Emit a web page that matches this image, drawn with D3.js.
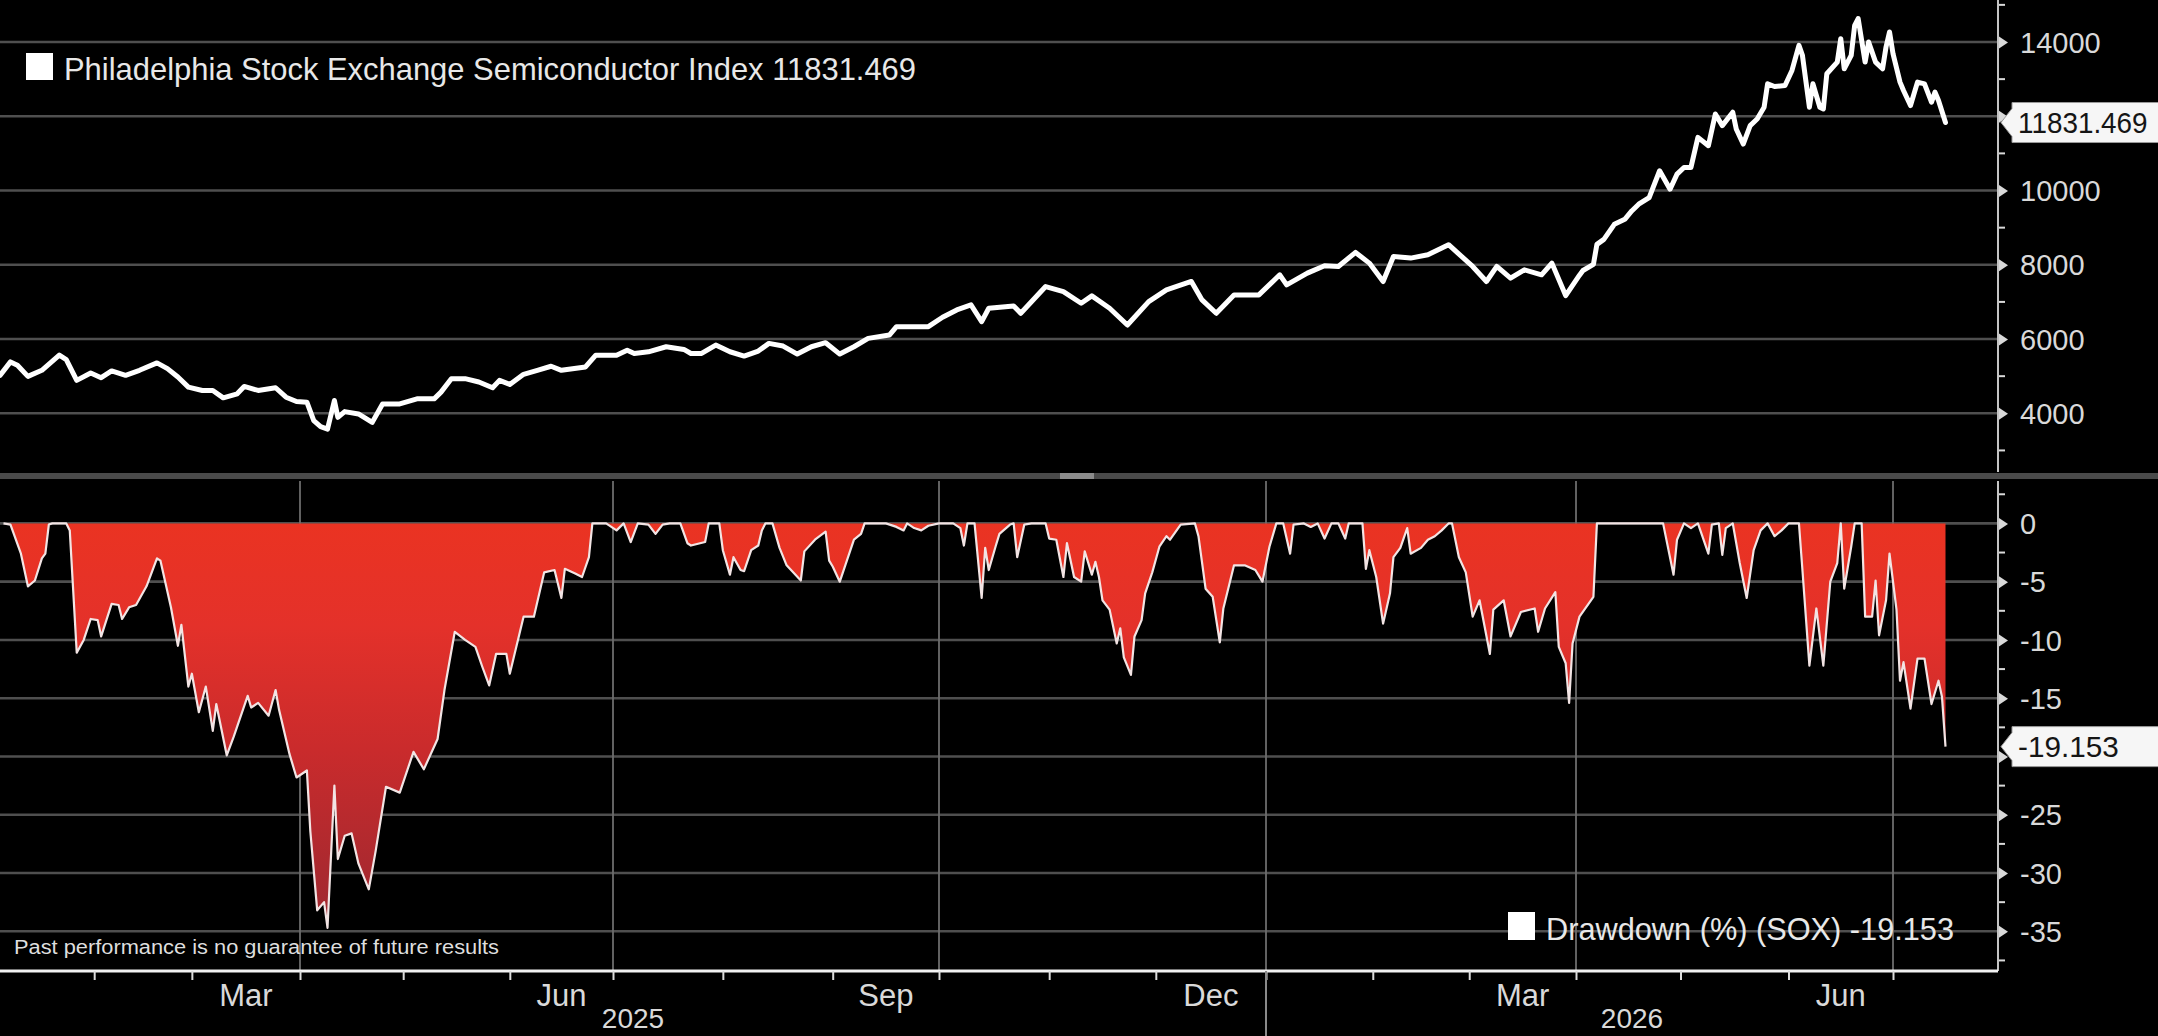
<!DOCTYPE html>
<html><head><meta charset="utf-8">
<script src="https://cdn.jsdelivr.net/npm/d3@7"></script>
<style>
html,body{margin:0;padding:0;background:#000;overflow:hidden}
svg{display:block}
text{font-family:"Liberation Sans",Arial,Helvetica,sans-serif}
</style></head><body>
<svg id="chart" width="2158" height="1036"></svg>
<script>
// ---------------- DATA ----------------
const indexDates = [
"2025-01-05","2025-01-08","2025-01-10","2025-01-13","2025-01-17","2025-01-22","2025-01-24","2025-01-27","2025-01-31",
"2025-02-03","2025-02-06","2025-02-10","2025-02-14","2025-02-19","2025-02-22","2025-02-25","2025-02-28",
"2025-03-04","2025-03-07","2025-03-10","2025-03-14","2025-03-16","2025-03-20","2025-03-25","2025-03-28","2025-03-31",
"2025-04-03","2025-04-05","2025-04-07","2025-04-09","2025-04-11","2025-04-12","2025-04-14","2025-04-18","2025-04-22","2025-04-25","2025-04-30",
"2025-05-05","2025-05-10","2025-05-12","2025-05-15","2025-05-19","2025-05-23","2025-05-27","2025-05-29",
"2025-06-01","2025-06-05","2025-06-09","2025-06-13","2025-06-16","2025-06-23","2025-06-26",
"2025-07-02","2025-07-05","2025-07-07","2025-07-11","2025-07-16","2025-07-21","2025-07-23","2025-07-26","2025-07-30",
"2025-08-03","2025-08-07","2025-08-11","2025-08-14","2025-08-18","2025-08-22","2025-08-26","2025-08-30",
"2025-09-03","2025-09-07","2025-09-11","2025-09-17","2025-09-19","2025-09-28",
"2025-10-02","2025-10-06","2025-10-10","2025-10-13","2025-10-15","2025-10-22","2025-10-24","2025-10-31",
"2025-11-05","2025-11-10","2025-11-13","2025-11-18","2025-11-23","2025-11-29",
"2025-12-04","2025-12-11","2025-12-14","2025-12-18","2025-12-23","2025-12-30",
"2026-01-05","2026-01-07","2026-01-13","2026-01-18","2026-01-22","2026-01-27","2026-01-31",
"2026-02-04","2026-02-07","2026-02-12","2026-02-17","2026-02-23",
"2026-03-02","2026-03-06","2026-03-09","2026-03-13","2026-03-17","2026-03-22","2026-03-25","2026-03-29",
"2026-04-02","2026-04-03","2026-04-06","2026-04-07","2026-04-09","2026-04-12","2026-04-15","2026-04-17","2026-04-19","2026-04-22","2026-04-25","2026-04-28","2026-04-30",
"2026-05-02","2026-05-04","2026-05-06","2026-05-09","2026-05-11","2026-05-13","2026-05-16","2026-05-17","2026-05-19","2026-05-21","2026-05-23","2026-05-25","2026-05-26","2026-05-28","2026-05-31",
"2026-06-02","2026-06-04","2026-06-05","2026-06-07","2026-06-08","2026-06-10","2026-06-11","2026-06-12","2026-06-15","2026-06-16","2026-06-17","2026-06-19","2026-06-20","2026-06-21","2026-06-23","2026-06-24","2026-06-26","2026-06-28","2026-06-29","2026-06-30",
"2026-07-01","2026-07-03","2026-07-04","2026-07-06","2026-07-08","2026-07-10","2026-07-12","2026-07-13","2026-07-14","2026-07-16"
];
const indexValues = [
5020,5385,5294,4995,5158,5566,5448,4887,5086,
4959,5140,5023,5158,5357,5204,4977,4706,
4615,4615,4416,4525,4724,4615,4688,4434,4317,
4299,3801,3638,3575,4344,3891,4045,3982,3756,4253,4253,
4389,4389,4570,4932,4932,4842,4688,4887,
4778,5050,5158,5267,5158,5249,5566,
5566,5701,5611,5656,5792,5720,5611,5613,5838,
5658,5541,5676,5883,5811,5595,5793,5901,
5595,5793,6018,6108,6333,6333,
6586,6784,6919,6468,6829,6892,6694,7414,
7279,6964,7162,6829,6378,7009,
7324,7550,7054,6694,7189,7189,
7730,7459,7775,7973,7955,8333,8045,
7550,8225,8180,8270,8541,
7955,7550,7955,7640,7865,7730,8045,7170,
7720,7847,8009,8550,8685,9090,9225,9450,9631,9811,10532,10036,10441,
10622,10622,11432,11207,12063,11748,12108,11658,11252,11748,11928,12243,12874,12802,12829,
13234,13910,13640,12243,12874,12243,12198,13144,13459,14090,13279,13640,14450,14631,13459,14000,13459,13279,13865,14270,
13685,12919,12694,12288,12919,12874,12378,12649,12423,11831.469
];
const drawdownDates = [
"2025-01-06","2025-01-08","2025-01-11","2025-01-13","2025-01-15","2025-01-17","2025-01-18","2025-01-19","2025-01-20","2025-01-24","2025-01-25","2025-01-27","2025-01-29","2025-01-31",
"2025-02-02","2025-02-03","2025-02-06","2025-02-08","2025-02-09","2025-02-11","2025-02-13","2025-02-16","2025-02-19","2025-02-20","2025-02-23","2025-02-25","2025-02-26","2025-02-28",
"2025-03-01","2025-03-03","2025-03-05","2025-03-07","2025-03-08","2025-03-11","2025-03-13","2025-03-17","2025-03-18","2025-03-20","2025-03-23","2025-03-25","2025-03-26","2025-03-29","2025-03-31",
"2025-04-03","2025-04-04","2025-04-06","2025-04-08","2025-04-09","2025-04-11","2025-04-12","2025-04-14","2025-04-16","2025-04-18","2025-04-21","2025-04-23","2025-04-26","2025-04-30",
"2025-05-04","2025-05-07","2025-05-11","2025-05-13","2025-05-16","2025-05-19","2025-05-22","2025-05-24","2025-05-26","2025-05-28","2025-05-31",
"2025-06-01","2025-06-05","2025-06-08","2025-06-11","2025-06-14","2025-06-16","2025-06-17","2025-06-20","2025-06-22","2025-06-24","2025-06-25","2025-06-29",
"2025-07-02","2025-07-04","2025-07-06","2025-07-08","2025-07-11","2025-07-13","2025-07-15","2025-07-17","2025-07-20","2025-07-22","2025-07-23","2025-07-27","2025-07-28","2025-07-31",
"2025-08-01","2025-08-03","2025-08-04","2025-08-06","2025-08-07","2025-08-09","2025-08-11","2025-08-12","2025-08-13","2025-08-15","2025-08-17","2025-08-19","2025-08-23","2025-08-24","2025-08-27","2025-08-30","2025-08-31",
"2025-09-01","2025-09-03","2025-09-05","2025-09-07","2025-09-09","2025-09-10","2025-09-16","2025-09-19","2025-09-21","2025-09-22","2025-09-24","2025-09-26","2025-09-28",
"2025-10-01","2025-10-05","2025-10-07","2025-10-08","2025-10-09","2025-10-11","2025-10-13","2025-10-14","2025-10-15","2025-10-17","2025-10-18","2025-10-21","2025-10-22","2025-10-23","2025-10-25","2025-10-27","2025-10-31",
"2025-11-01","2025-11-03","2025-11-05","2025-11-06","2025-11-08","2025-11-10","2025-11-11","2025-11-13","2025-11-14","2025-11-15","2025-11-16","2025-11-18","2025-11-20","2025-11-21","2025-11-22","2025-11-24","2025-11-25","2025-11-27","2025-11-28","2025-11-30",
"2025-12-02","2025-12-04","2025-12-05","2025-12-08","2025-12-12","2025-12-13","2025-12-15","2025-12-17","2025-12-19","2025-12-20","2025-12-23","2025-12-26","2025-12-29","2025-12-31",
"2026-01-02","2026-01-04","2026-01-06","2026-01-08","2026-01-09","2026-01-12","2026-01-14","2026-01-16","2026-01-18","2026-01-20","2026-01-22","2026-01-24","2026-01-25","2026-01-29","2026-01-30","2026-01-31",
"2026-02-02","2026-02-04","2026-02-06","2026-02-07","2026-02-09","2026-02-11","2026-02-12","2026-02-15","2026-02-17","2026-02-19","2026-02-21","2026-02-23","2026-02-24","2026-02-26","2026-02-28",
"2026-03-02","2026-03-04","2026-03-07","2026-03-08","2026-03-11","2026-03-13","2026-03-16","2026-03-20","2026-03-21","2026-03-23","2026-03-26","2026-03-27","2026-03-29","2026-03-30","2026-03-31",
"2026-04-02","2026-04-06","2026-04-07","2026-04-26","2026-04-29","2026-04-30",
"2026-05-02","2026-05-04","2026-05-06","2026-05-09","2026-05-10","2026-05-12","2026-05-13","2026-05-14","2026-05-16","2026-05-18","2026-05-20","2026-05-22","2026-05-24","2026-05-26","2026-05-28","2026-05-30",
"2026-06-01","2026-06-04","2026-06-05","2026-06-07","2026-06-09","2026-06-11","2026-06-13","2026-06-15","2026-06-16","2026-06-17","2026-06-19","2026-06-20","2026-06-22","2026-06-23","2026-06-25","2026-06-26","2026-06-27","2026-06-29","2026-06-30",
"2026-07-02","2026-07-03","2026-07-04","2026-07-06","2026-07-08","2026-07-10","2026-07-12","2026-07-14","2026-07-15","2026-07-16"
];
const drawdownValues = [
0,-0.1,-2.6,-5.4,-4.9,-3.0,-2.6,-0.1,0,0,-0.6,-11.1,-10.0,-8.2,
-8.3,-9.7,-6.9,-7.0,-8.2,-7.2,-7.0,-5.4,-3.0,-3.2,-7.2,-10.5,-8.7,-14.0,
-12.9,-16.2,-14.0,-17.8,-15.5,-19.9,-18.3,-14.8,-15.8,-15.4,-16.5,-14.3,-16.0,-19.8,-21.8,
-21.2,-26.4,-33.2,-32.5,-34.7,-22.5,-28.8,-26.8,-26.6,-29.2,-31.4,-28.1,-22.6,-23.1,
-19.6,-21.1,-18.5,-14.3,-9.3,-10.0,-10.6,-12.3,-13.9,-11.2,-11.2,
-12.9,-8.0,-8.0,-4.2,-4.0,-6.4,-3.9,-4.3,-4.6,-2.9,0,0,
-0.6,0,-1.6,0,-0.1,-0.9,-0.1,0,0,-1.7,-1.9,-1.6,0,0,
-2.3,-4.4,-2.9,-4.0,-4.1,-2.3,-1.9,-0.6,0,0,-2.1,-3.6,-4.9,-2.4,-1.4,-0.7,-3.2,
-3.7,-5.0,-3.2,-1.4,-0.9,0,0,-0.3,-0.6,0,-0.4,-0.6,-0.2,
0,0,-0.4,-1.9,0,0,-6.4,-2.1,-4.0,-1.9,-0.9,-0.1,0,-2.9,-0.1,0,0,
-1.3,-1.4,-4.6,-1.7,-4.6,-5.0,-2.4,-4.4,-3.3,-4.6,-6.6,-7.4,-10.3,-9.0,-11.5,-13.0,-9.7,-8.3,-6.0,-4.2,
-2.0,-1.1,-1.4,-0.1,0,-1.1,-5.6,-6.3,-10.2,-7.3,-3.6,-3.6,-4.0,-5.0,
-2.0,0,0,-2.6,-0.1,0,-0.3,0,-1.3,0,0,-1.3,0,0,-3.9,-2.3,
-4.6,-8.6,-6.0,-2.9,-2.1,-0.4,-2.6,-2.1,-1.4,-1.1,-0.6,0,0,-2.9,-4.2,
-8.0,-6.6,-11.2,-7.4,-6.6,-9.7,-7.6,-7.3,-9.3,-7.3,-5.9,-10.6,-12.0,-15.4,-10.3,
-8.0,-6.3,0,0,-4.4,-1.4,
0,-0.4,0,-2.6,-0.1,0,-2.7,-0.4,0,-3.4,-6.4,-2.3,-0.6,0,-1.1,-0.6,
0,0,-4.0,-12.2,-7.3,-12.2,-5.0,-3.4,0,-5.6,-2.0,0,0,-8.0,-8.0,-4.9,-9.6,-6.6,-2.6,
-7.4,-13.5,-11.9,-15.9,-11.6,-11.6,-15.5,-13.5,-14.9,-19.153
];
const priceTicks = [4000, 6000, 8000, 10000, 12000, 14000];
const priceMinorTicks = [3000, 5000, 7000, 9000, 11000, 13000, 15000];
const drawdownTicks = [0, -5, -10, -15, -20, -25, -30, -35];
const drawdownMinorTicks = [2.5, -2.5, -7.5, -12.5, -17.5, -22.5, -27.5, -32.5, -37.5];
const labelMonths = ["2025-03", "2025-06", "2025-09", "2025-12", "2026-03", "2026-06"];
const labelMonthNames = ["Mar", "Jun", "Sep", "Dec", "Mar", "Jun"];
const yearLabels = ["2025", "2026"];
const priceName = "Philadelphia Stock Exchange Semiconductor Index";
const drawdownName = "Drawdown (%) (SOX)";
const lastPrice = "11831.469";
const lastDrawdown = "-19.153";
const disclaimer = "Past performance is no guarantee of future results";

// ---------------- LAYOUT ----------------
const W = 2158, H = 1036, R = 1998;
const TOP_BOTTOM = 472, BOT_TOP = 481, AXIS_Y = 971;
const parse = d3.timeParse("%Y-%m-%d");
const pm = d3.timeParse("%Y-%m");

const price = indexDates.map((d, i) => ({date: parse(d), v: indexValues[i]}));
const dd = drawdownDates.map((d, i) => ({date: parse(d), v: drawdownValues[i]}));

const x = d3.scaleTime()
  .domain([parse("2025-01-05"), parse("2025-04-01"), parse("2025-07-01"), parse("2025-10-01"),
           parse("2026-01-01"), parse("2026-04-01"), parse("2026-07-01"), parse("2026-07-31")])
  .range([0, 300, 613, 939, 1266, 1576, 1893, R]);
const yP = d3.scaleLinear().domain([4000, 14000]).range([413.3, 42]);
const yD = d3.scaleLinear().domain([-35, 0]).range([931.3, 523.4]);

const svg = d3.select("#chart");
svg.append("rect").attr("width", W).attr("height", H).attr("fill", "#000");

const defs = svg.append("defs");
defs.append("clipPath").attr("id", "clipTop").append("rect").attr("x", 0).attr("y", 0).attr("width", R).attr("height", TOP_BOTTOM);
defs.append("clipPath").attr("id", "clipBot").append("rect").attr("x", 0).attr("y", BOT_TOP).attr("width", R).attr("height", AXIS_Y - BOT_TOP);
const grad = defs.append("linearGradient").attr("id", "ddGrad")
  .attr("gradientUnits", "userSpaceOnUse").attr("x1", 0).attr("x2", 0)
  .attr("y1", yD(0)).attr("y2", yD(-35));
[[0, "#ea3322"], [0.25, "#e4312a"], [0.55, "#ca2b2c"], [0.85, "#ab292f"], [1, "#9e2830"]]
  .forEach(s => grad.append("stop").attr("offset", s[0]).attr("stop-color", s[1]));

const GRID = "#4f4f4f";
svg.append("g").selectAll("line").data(priceTicks).join("line")
  .attr("x1", 0).attr("x2", R).attr("y1", d => yP(d)).attr("y2", d => yP(d))
  .attr("stroke", GRID).attr("stroke-width", 2.6);
svg.append("g").selectAll("line").data(drawdownTicks).join("line")
  .attr("x1", 0).attr("x2", R).attr("y1", d => yD(d)).attr("y2", d => yD(d))
  .attr("stroke", GRID).attr("stroke-width", 2.6);
const quarters = d3.timeMonth.every(3).range(parse("2025-04-01"), parse("2026-07-02"));
svg.append("g").selectAll("line").data(quarters).join("line")
  .attr("x1", d => x(d)).attr("x2", d => x(d)).attr("y1", BOT_TOP).attr("y2", AXIS_Y)
  .attr("stroke", "#6c6c6c").attr("stroke-width", 1.8);

// drawdown area + line
const area = d3.area().x(d => x(d.date)).y0(yD(0)).y1(d => yD(d.v));
const ddLine = d3.line().x(d => x(d.date)).y(d => yD(d.v));
const gBot = svg.append("g").attr("clip-path", "url(#clipBot)");
gBot.append("path").datum(dd).attr("d", area).attr("fill", "url(#ddGrad)");
gBot.append("path").datum(dd).attr("d", ddLine).attr("fill", "none")
  .attr("stroke", "#f2e4e4").attr("stroke-width", 2.2).attr("stroke-linejoin", "round");

// price line
const pLine = d3.line().x(d => x(d.date)).y(d => yP(d.v));
svg.append("g").attr("clip-path", "url(#clipTop)").append("path").datum(price).attr("d", pLine)
  .attr("fill", "none").attr("stroke", "#ffffff").attr("stroke-width", 5)
  .attr("stroke-linejoin", "round").attr("stroke-linecap", "round");

// divider between panels
svg.append("rect").attr("x", 0).attr("y", 473).attr("width", W).attr("height", 6).attr("fill", "#4a4a4a");
svg.append("rect").attr("x", 1060).attr("y", 473).attr("width", 34).attr("height", 6).attr("fill", "#8c8c8c");

// right axes (labels hidden behind the value tags are omitted, as in the reference)
const TICKC = "#d9d9d9";
function rightAxis(scale, ticks, minor, fmt, y0, y1, tagValue) {
  const g = svg.append("g").attr("transform", `translate(${R},0)`)
    .call(d3.axisRight(scale).tickValues(ticks).tickSize(0).tickPadding(22)
      .tickFormat(d => Math.abs(scale(d) - scale(tagValue)) < 30 ? "" : fmt(d)));
  g.select(".domain").remove();
  g.selectAll(".tick text").attr("fill", TICKC).attr("font-size", 29).attr("dy", "0.35em");
  g.selectAll(".tick").append("path").attr("d", "M1,-6L10,0L1,6Z").attr("fill", TICKC);
  g.selectAll(".minor").data(minor).join("line").attr("class", "minor")
    .attr("x1", 0).attr("x2", 7).attr("y1", d => scale(d)).attr("y2", d => scale(d))
    .attr("stroke", TICKC).attr("stroke-width", 2);
  g.append("line").attr("x1", 0).attr("x2", 0).attr("y1", y0).attr("y2", y1)
    .attr("stroke", "#c4c4c4").attr("stroke-width", 2);
}
rightAxis(yP, priceTicks, priceMinorTicks, d3.format("d"), 0, TOP_BOTTOM, +lastPrice);
rightAxis(yD, drawdownTicks, drawdownMinorTicks, d => String(d), BOT_TOP, AXIS_Y, +lastDrawdown);

// bottom time axis
const months = d3.timeMonth.range(parse("2025-02-01"), parse("2026-07-02"));
const gx = svg.append("g").attr("transform", `translate(0,${AXIS_Y})`)
  .call(d3.axisBottom(x).tickValues(months).tickSize(9).tickFormat(""));
gx.select(".domain").attr("d", `M0,0H${R}`).attr("stroke", "#f2f2f2").attr("stroke-width", 3);
gx.selectAll(".tick line").attr("stroke", "#dddddd").attr("stroke-width", 2);
labelMonths.forEach((m, i) => {
  const s = pm(m), e = d3.timeMonth.offset(s, 1);
  svg.append("text").attr("x", (x(s) + x(e)) / 2).attr("y", 1006)
    .attr("text-anchor", "middle").attr("font-size", 31).attr("fill", TICKC).text(labelMonthNames[i]);
});
const yearStart = parse("2026-01-01");
svg.append("line").attr("x1", x(yearStart)).attr("x2", x(yearStart)).attr("y1", AXIS_Y).attr("y2", H)
  .attr("stroke", "#8a8a8a").attr("stroke-width", 2);
svg.append("text").attr("x", x(yearStart) / 2).attr("y", 1028).attr("text-anchor", "middle")
  .attr("font-size", 28).attr("fill", TICKC).text(yearLabels[0]);
svg.append("text").attr("x", (x(yearStart) + R) / 2).attr("y", 1028).attr("text-anchor", "middle")
  .attr("font-size", 28).attr("fill", TICKC).text(yearLabels[1]);

// value tags on the right
function tag(yc, label) {
  svg.append("path").attr("d", `M${R + 3},${yc}L${R + 14},${yc - 14}V${yc - 20}H${W + 2}V${yc + 20}H${R + 14}V${yc + 14}Z`)
    .attr("fill", "#f6f6f6").attr("stroke", "#9a9a9a").attr("stroke-width", 1);
  svg.append("text").attr("x", R + 20).attr("y", yc).attr("dy", "0.36em").attr("font-size", 30)
    .attr("fill", "#151515").attr("textLength", label.length * 14.4).attr("lengthAdjust", "spacingAndGlyphs").text(label);
}
tag(yP(+lastPrice), lastPrice);
tag(yD(+lastDrawdown), lastDrawdown);

// legends
svg.append("rect").attr("x", 26).attr("y", 53).attr("width", 27).attr("height", 27).attr("fill", "#fff");
svg.append("text").attr("x", 64).attr("y", 80).attr("font-size", 32).attr("fill", "#e8e8e8")
  .attr("textLength", 852).attr("lengthAdjust", "spacingAndGlyphs").text(priceName + " " + lastPrice);
svg.append("rect").attr("x", 1508).attr("y", 912).attr("width", 27).attr("height", 28).attr("fill", "#fff");
svg.append("text").attr("x", 1546).attr("y", 940).attr("font-size", 32).attr("fill", "#e8e8e8")
  .attr("textLength", 408).attr("lengthAdjust", "spacingAndGlyphs").text(drawdownName + " " + lastDrawdown);
svg.append("text").attr("x", 14).attr("y", 954).attr("font-size", 20).attr("fill", "#dedede")
  .attr("textLength", 485).attr("lengthAdjust", "spacingAndGlyphs").text(disclaimer);
</script>
</body></html>
